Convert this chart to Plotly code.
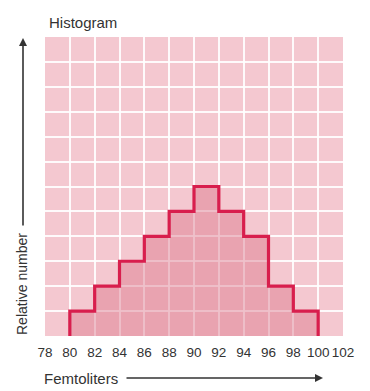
import plotly.graph_objects as go

# Data
bin_left = [80, 82, 84, 86, 88, 90, 92, 94, 96, 98]
bin_width = 2
counts = [1, 2, 3, 4, 5, 6, 5, 4, 2, 1]
x_ticks = [78, 80, 82, 84, 86, 88, 90, 92, 94, 96, 98, 100, 102]

# Build step outline (hv) from bins
xs = [bin_left[0]] + bin_left + [bin_left[-1] + bin_width]
ys = [0] + counts + [0]

# page has an 8px body margin; work in page pixels and shift
OFF = 8
W, H = 370 - OFF, 391 - OFF
L, R, T, B = 45 - OFF, 343 - OFF, 37 - OFF, 336 - OFF

def px(X):
    return (X - OFF - L) / (R - L)

def py(Y):
    return (B - (Y - OFF)) / (B - T)

FONT = "Liberation Sans, Arial, sans-serif"
TXT = "#333333"

fig = go.Figure()
fig.add_trace(go.Scatter(
    x=xs, y=ys, mode="lines", line_shape="hv",
    line=dict(color="#d81e4d", width=3.2),
    fill="tozeroy", fillcolor="rgba(220,117,137,0.45)",
    hoverinfo="skip", showlegend=False,
))

fig.update_layout(
    width=W, height=H,
    margin=dict(l=L, r=W - R, t=T, b=H - B, autoexpand=False),
    paper_bgcolor="white",
    plot_bgcolor="#f4c8d0",
    font=dict(family=FONT, color=TXT, size=14),
    xaxis=dict(range=[78, 102], tickvals=x_ticks, ticktext=[str(v) for v in x_ticks],
               tickangle=0, automargin=False,
               showgrid=True, gridcolor="rgba(255,255,255,0.9)", gridwidth=1.5,
               zeroline=False, showline=False, ticks="outside", ticklen=4,
               tickcolor="rgba(0,0,0,0)", fixedrange=True,
               tickfont=dict(size=13.5, color=TXT)),
    yaxis=dict(range=[0, 12], dtick=1, showticklabels=False, automargin=False,
               showgrid=True, gridcolor="rgba(255,255,255,0.9)", gridwidth=1.5,
               zeroline=False, showline=False, ticks="", fixedrange=True),
    annotations=[
        dict(text="Histogram", xref="paper", yref="paper", x=px(47), y=py(22),
             xanchor="left", yanchor="middle", showarrow=False, font=dict(size=15, color=TXT)),
        dict(text="Relative number", xref="paper", yref="paper", x=px(22), y=py(284),
             xanchor="center", yanchor="middle", textangle=-90, showarrow=False,
             font=dict(size=14, color=TXT)),
        dict(text="Femtoliters", xref="paper", yref="paper", x=px(42), y=py(378),
             xanchor="left", yanchor="middle", showarrow=False, font=dict(size=15, color=TXT)),
        dict(text="", xref="paper", yref="paper", x=px(23), y=py(38), ax=0, ay=227 - 38,
             showarrow=True, arrowhead=2, arrowsize=1, arrowwidth=1.6, arrowcolor="#333333"),
        dict(text="", xref="paper", yref="paper", x=px(323), y=py(378), ax=125 - 323, ay=0,
             showarrow=True, arrowhead=2, arrowsize=1, arrowwidth=1.6, arrowcolor="#333333"),
    ],
)

fig.write_html("out.html")
